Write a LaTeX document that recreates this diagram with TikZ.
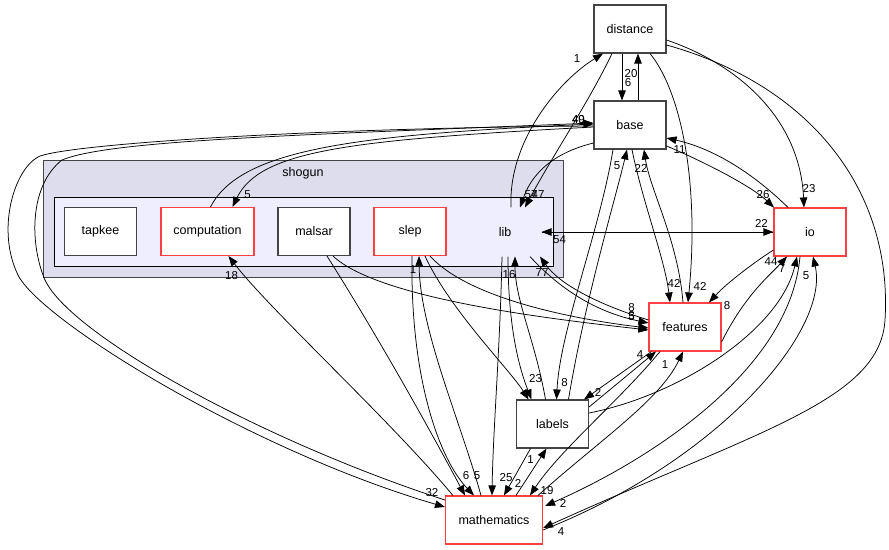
\documentclass[tikz,border=0pt]{standalone}
\usepackage{fontspec}
\setmainfont{Liberation Sans}
\usepackage{tikz}
\usetikzlibrary{arrows.meta}
\definecolor{dxred}{RGB}{255,64,64}
\definecolor{dxgrey}{RGB}{68,68,68}
\definecolor{outerfill}{RGB}{221,221,238}
\definecolor{innerfill}{RGB}{238,238,255}
\tikzset{
    dirbox/.style={
           rectangle,
           draw=dxgrey, line width=1.1pt,
           fill=white,
           minimum width=72pt,
           minimum height=48pt,
           inner sep=2pt,
           font=\fontsize{12.5}{14}\selectfont
           },
    reddir/.style={dirbox, draw=dxred},
    lbl/.style={inner sep=0pt, font=\fontsize{11.5}{12}\selectfont},
    dep/.style={-{Triangle[length=10pt,width=7.5pt]}, line width=0.75pt},
}
\begin{document}
\begin{tikzpicture}[x=1pt,y=-1pt]
            \useasboundingbox (0,0) rectangle (889,549);

%           clusters
            \draw[dxgrey, line width=0.9pt, fill=outerfill] (43,160) rectangle (563,277);
            \node[lbl, font=\fontsize{12.5}{14}\selectfont] (SHOGUN) at (303,173) {shogun};
            \draw[black, line width=0.9pt, fill=innerfill] (54,197) rectangle (553,266);

             \node[dirbox, draw=none, fill=none] (lib) at (505,232) {lib};
             \node[dirbox] (tapkee) at (100.5,231.5) {tapkee};
             \node[reddir, minimum width=93pt] (computation) at (207.5,231.5) {computation};
             \node[dirbox] (malsar) at (314,231.5) {malsar};
             \node[reddir] (slep) at (410,231.5) {slep};

             \node[dirbox] (distance) at (630,29) {distance};
             \node[dirbox] (base) at (630,125) {base};
             \node[reddir] (io) at (810,232) {io};
             \node[reddir] (features) at (685,327) {features};
             \node[dirbox] (labels) at (552.5,424) {labels};
             \node[reddir, minimum width=97pt] (mathematics) at (494,520) {mathematics};

%           distance, base
            \draw[dep] ([xshift=6pt]lib.north) .. controls (508,140) and (560,80) .. ([xshift=-27pt]distance.south)
                node[lbl, at end, xshift=-26pt, yshift=-5pt] {1};
            \draw[dep] ([xshift=-8pt]distance.south) -- ([xshift=-8pt]base.north)
                node[lbl, at end, xshift=6pt, yshift=18pt] {6};
            \draw[dep] ([xshift=8pt]base.north) -- ([xshift=8pt]distance.south)
                node[lbl, at end, xshift=-7pt, yshift=-20pt] {20};
            \draw[dep] ([xshift=-18pt]distance.south) .. controls (590,100) and (550,160) .. ([xshift=20pt]lib.north)
                node[lbl, at end, xshift=13pt, yshift=13pt] {47};
            \draw[dep] ([yshift=-18pt]base.west) .. controls (565,150) and (535,165) .. ([xshift=15pt]lib.north)
                node[lbl, at end, xshift=11pt, yshift=13pt] {57};
            \draw[dep] ([yshift=-11pt]distance.east) .. controls (740,65) and (800,120) .. ([xshift=-6pt]io.north)
                node[lbl, at end, xshift=5pt, yshift=19pt] {23};
            \draw[dep] ([yshift=-16pt]distance.east) .. controls (810,85) and (893,190) .. (885,320)
                .. controls (880,400) and (760,430) .. ([yshift=-8pt]mathematics.east)
                node[lbl, at end, xshift=18pt, yshift=-4pt] {4};
            \draw[dep] ([xshift=20pt]distance.south) .. controls (680,90) and (700,180) .. ([xshift=3pt]features.north)
                node[lbl, at end, xshift=12pt, yshift=16pt] {42};

%           base, io, features, labels
            \draw[dep] ([xshift=2pt]base.south) .. controls (642,200) and (665,260) .. ([xshift=-15pt]features.north)
                node[lbl, at end, xshift=4pt, yshift=19pt] {42};
            \draw[dep] ([xshift=-2pt]features.north) .. controls (678,240) and (650,190) .. ([xshift=14pt]base.south)
                node[lbl, at end, xshift=-3pt, yshift=-19pt] {22};
            \draw[dep] ([xshift=-17pt]base.south) .. controls (600,230) and (560,330) .. ([xshift=4pt]labels.north)
                node[lbl, at end, xshift=8pt, yshift=17pt] {8};
            \draw[dep] ([xshift=16pt]labels.north) .. controls (585,300) and (615,200) .. ([xshift=-3pt]base.south)
                node[lbl, at end, xshift=-10pt, yshift=-16pt] {5};
            \draw[dep] ([yshift=-21pt]base.east) .. controls (700,160) and (750,185) .. ([xshift=-36pt]io.north)
                node[lbl, at end, xshift=-11pt, yshift=13pt] {26};
            \draw[dep] ([xshift=-22pt]io.north) .. controls (760,180) and (720,150) .. ([yshift=-13pt]base.east)
                node[lbl, at end, xshift=13pt, yshift=-12pt] {11};
            \draw[dep] (lib.east) -- (io.west)
                node[lbl, at end, xshift=-12pt, yshift=9pt] {22};
            \draw[dep] (io.west) -- (lib.east)
                node[lbl, at end, xshift=18pt, yshift=-8pt] {54};
            \draw[dep] ([yshift=-18pt]io.west) .. controls (750,265) and (725,285) .. ([xshift=24pt]features.north)
                node[lbl, at end, xshift=18pt, yshift=-3pt] {8};
            \draw[dep] ([yshift=-15pt]features.east) .. controls (745,295) and (770,275) .. ([xshift=-23pt]io.south)
                node[lbl, at end, xshift=-16pt, yshift=-5pt] {44};
            \draw[dep] ([yshift=11pt]labels.east) .. controls (680,395) and (780,330) .. ([xshift=-13pt]io.south)
                node[lbl, at end, xshift=-15pt, yshift=-12pt] {7};
            \draw[dep] ([yshift=-10pt]mathematics.east) .. controls (720,460) and (830,330) .. ([xshift=3pt]io.south)
                node[lbl, at end, xshift=-7pt, yshift=-19pt] {5};
            \draw[dep] ([xshift=-10pt]io.south) .. controls (790,370) and (650,460) .. ([xshift=2pt,yshift=14pt]mathematics.east)
                node[lbl, at end, xshift=18pt, yshift=3pt] {2};
            \draw[dep] ([xshift=-25pt]features.south) .. controls (620,400) and (560,450) .. ([xshift=36pt]mathematics.north)
                node[lbl, at end, xshift=17pt, yshift=5pt] {19};
            \draw[dep] ([xshift=44pt]mathematics.north) .. controls (600,440) and (660,400) .. ([xshift=-2pt]features.south)
                node[lbl, at end, xshift=-18pt, yshift=-13pt] {1};
            \draw[dep] ([xshift=3pt]features.south west) -- ([xshift=-5pt]labels.north east)
                node[lbl, at end, xshift=14pt, yshift=7pt] {2};
            \draw[dep] ([yshift=17pt]labels.east) -- ([xshift=-29pt]features.south)
                node[lbl, at end, xshift=-16pt, yshift=-3pt] {4};
            \draw[dep] ([xshift=-22pt]labels.south) -- ([xshift=10pt]mathematics.north)
                node[lbl, at end, xshift=14pt, yshift=12pt] {2};
            \draw[dep] ([xshift=22pt]mathematics.north) -- ([xshift=-6pt]labels.south)
                node[lbl, at end, xshift=-16pt, yshift=-11pt] {1};

%           lib and its subdirectories
            \draw[dep] ([xshift=-3pt]lib.south) .. controls (500,350) and (493,430) .. ([xshift=-2pt]mathematics.north)
                node[lbl, at end, xshift=14pt, yshift=18pt] {25};
            \draw[dep] ([xshift=3pt]lib.south) .. controls (508,330) and (520,370) .. ([xshift=-21pt]labels.north)
                node[lbl, at end, xshift=4pt, yshift=21pt] {23};
            \draw[dep] ([xshift=-7pt]labels.north) .. controls (535,340) and (515,300) .. ([xshift=10pt]lib.south)
                node[lbl, at end, xshift=-6pt, yshift=-18pt] {16};
            \draw[dep] ([yshift=7pt]features.west) .. controls (600,305) and (560,285) .. ([xshift=35pt]lib.south)
                node[lbl, at end, xshift=2pt, yshift=-16pt] {77};
            \draw[dep] ([xshift=25pt]lib.south) .. controls (570,300) and (610,315) .. ([yshift=4pt]features.west)
                node[lbl, at end, xshift=-17pt, yshift=15pt] {8};
            \draw[dep] ([xshift=20pt]slep.south) .. controls (470,300) and (580,320) .. ([yshift=-1pt]features.west)
                node[lbl, at end, xshift=-17pt, yshift=12pt] {3};
            \draw[dep] ([xshift=19pt]malsar.south) .. controls (380,300) and (560,320) .. ([yshift=-3pt]features.west)
                node[lbl, at end, xshift=-17pt, yshift=13pt] {5};
            \draw[dep] ([xshift=15pt]slep.south) .. controls (450,310) and (510,370) .. ([xshift=-24pt]labels.north);
            \draw[dep] ([xshift=2pt]slep.south) .. controls (410,380) and (440,460) .. ([xshift=-20pt]mathematics.north)
                node[lbl, at end, xshift=3pt, yshift=20pt] {5};
            \draw[dep] ([xshift=-13pt]mathematics.north) .. controls (460,420) and (420,330) .. ([xshift=9pt]slep.south)
                node[lbl, at end, xshift=-6pt, yshift=-13pt] {1};
            \draw[dep] ([xshift=13pt]malsar.south) .. controls (380,340) and (430,430) .. ([xshift=-29pt]mathematics.north)
                node[lbl, at end, xshift=1pt, yshift=20pt] {6};
            \draw[dep] ([xshift=8pt]mathematics.north west) .. controls (390,420) and (270,310) .. ([xshift=21pt]computation.south)
                node[lbl, at end, xshift=3pt, yshift=-19pt] {18};
            \draw[dep] ([xshift=3pt]computation.north) .. controls (240,150) and (350,135) .. ([yshift=1pt]base.west)
                node[lbl, at end, xshift=-15pt, yshift=4pt] {40};
            \draw[dep] ([yshift=-2pt]base.west) .. controls (350,140) and (260,150) .. ([xshift=25pt]computation.north)
                node[lbl, at end, xshift=15pt, yshift=12pt] {5};

%           around the cluster
            \draw[dep] ([yshift=20pt]mathematics.west) .. controls (260,440) and (60,330) .. (43,275)
                .. controls (30,240) and (30,185) .. (62,160)
                .. controls (110,140) and (300,135) .. ([yshift=2pt]base.west)
                node[lbl, at end, xshift=-15pt, yshift=3pt] {49};
            \draw[dep] ([yshift=-1pt]base.west) .. controls (300,128) and (60,145) .. (38,157)
                .. controls (14,170) and (-4,230) .. (18,275)
                .. controls (40,320) and (250,450) .. ([yshift=13pt]mathematics.west)
                node[lbl, at end, xshift=-13pt, yshift=14pt] {32};

        \end{tikzpicture}
\end{document}
